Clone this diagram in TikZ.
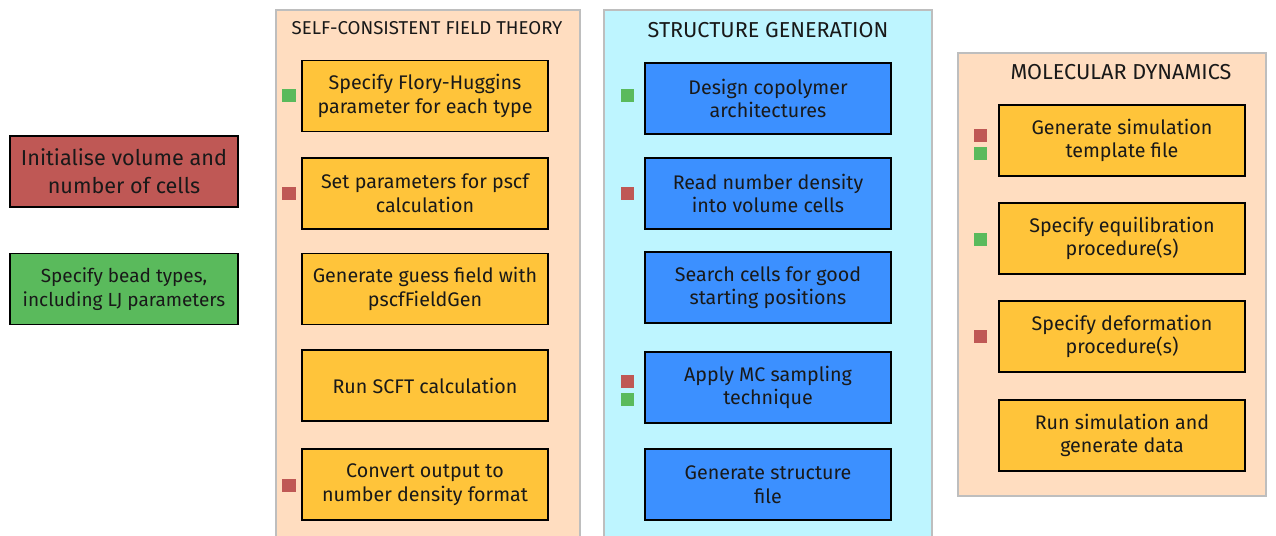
\documentclass[tikz,border=0pt]{standalone}
\usepackage{fontspec}
\setmainfont{Fira Sans}
\usetikzlibrary{positioning}
\definecolor{initred}{RGB}{191,88,85}
\definecolor{beadgreen}{RGB}{90,186,92}
\definecolor{peach}{RGB}{255,221,192}
\definecolor{skyblue}{RGB}{190,245,255}
\definecolor{taskyellow}{RGB}{255,196,58}
\definecolor{taskblue}{RGB}{60,144,255}
\definecolor{panelgray}{RGB}{190,190,190}
\definecolor{ink}{RGB}{25,25,25}
\tikzset{
  panel/.style={draw=panelgray, line width=1.1pt},
  task/.style={draw=black, line width=1.1pt, minimum width=4.92cm, minimum height=1.42cm,
    align=center, text=ink, font=\fontsize{11.2}{13.4}\selectfont, inner sep=2pt},
  scfttask/.style={task, fill=taskyellow},
  mdtask/.style={task, fill=taskyellow},
  sgtask/.style={task, fill=taskblue},
  paneltitle/.style={text=ink, inner sep=0pt, font=\fontsize{12.3}{14}\selectfont},
  redmark/.style={fill=initred, minimum size=0.27cm, inner sep=0pt},
  greenmark/.style={fill=beadgreen, minimum size=0.27cm, inner sep=0pt}
}
\begin{document}
\begin{tikzpicture}[x=0.02cm, y=-0.02cm]
		%%%%% START %%%%%
		\useasboundingbox (0, 0) rectangle (1276, 535);
		
		% left boxes
		\node[task, fill=initred, minimum width=4.56cm, font=\fontsize{12.3}{15.9}\selectfont] (init) at (124, 171.5) {Initialise volume and\\number of cells};
		\node[task, fill=beadgreen, minimum width=4.56cm, font=\fontsize{10.8}{13.8}\selectfont] (beads) at (124, 289) {Specify bead types,\\including LJ parameters};
		
		% self-consistent field theory
		\draw[panel, fill=peach] (276, 10) rectangle (580, 540);
		\node[paneltitle, font=\fontsize{10.6}{12}\selectfont] (scft) at (427, 28) {SELF-CONSISTENT FIELD THEORY};
		\node[scfttask] (scft1) at (425, 96) {Specify Flory-Huggins\\parameter for each type};
		\node[scfttask] (scft2) at (425, 193.5) {Set parameters for pscf\\calculation};
		\node[scfttask] (scft3) at (425, 289) {Generate guess field with\\pscfFieldGen};
		\node[scfttask] (scft4) at (425, 385.5) {Run SCFT calculation};
		\node[scfttask] (scft5) at (425, 484.5) {Convert output to\\number density format};
		\node[greenmark] (scftg1) at (289, 95.5) {};
		\node[redmark] (scftr2) at (289, 193.5) {};
		\node[redmark] (scftr5) at (289, 485.5) {};
		
		% structure generation
		\draw[panel, fill=skyblue] (604, 10) rectangle (932, 540);
		\node[paneltitle] (sg) at (768, 30) {STRUCTURE GENERATION};
		\node[sgtask] (sg1) at (768, 98.5) {Design copolymer\\architectures};
		\node[sgtask] (sg2) at (768, 193.5) {Read number density\\into volume cells};
		\node[sgtask] (sg3) at (768, 287.5) {Search cells for good\\starting positions};
		\node[sgtask] (sg4) at (768, 387.5) {Apply MC sampling\\technique};
		\node[sgtask] (sg5) at (768, 484.5) {Generate structure\\file};
		\node[greenmark] (sgg1) at (627.5, 95.5) {};
		\node[redmark] (sgr2) at (627.5, 193.5) {};
		\node[redmark] (sgr4) at (627.5, 381.5) {};
		\node[greenmark] (sgg4) at (627.5, 399.5) {};
		
		% molecular dynamics
		\draw[panel, fill=peach] (958, 53) rectangle (1266, 496);
		\node[paneltitle] (md) at (1121, 72) {MOLECULAR DYNAMICS};
		\node[mdtask] (md1) at (1122, 140.5) {Generate simulation\\template file};
		\node[mdtask] (md2) at (1122, 238.5) {Specify equilibration\\procedure(s)};
		\node[mdtask] (md3) at (1122, 336.5) {Specify deformation\\procedure(s)};
		\node[mdtask] (md4) at (1122, 435.5) {Run simulation and\\generate data};
		\node[redmark] (mdr1) at (980.5, 135.5) {};
		\node[greenmark] (mdg1) at (980.5, 153.5) {};
		\node[greenmark] (mdg2) at (980.5, 239.5) {};
		\node[redmark] (mdr3) at (980.5, 336.5) {};
		
		%%%%% END %%%%%
	\end{tikzpicture}
\end{document}
